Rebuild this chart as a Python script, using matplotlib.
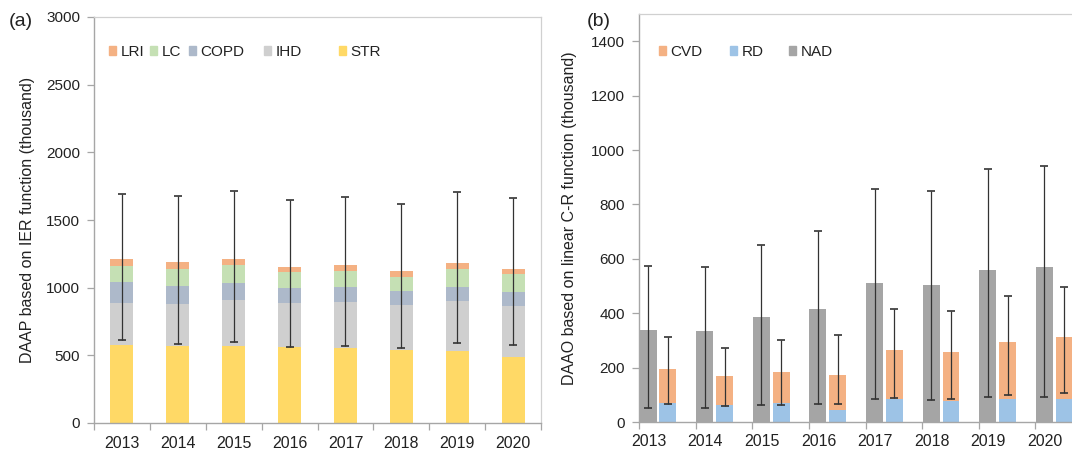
import numpy as np
import matplotlib
matplotlib.use('Agg')
import matplotlib.pyplot as plt
from matplotlib.patches import Patch
from matplotlib.legend import Legend

plt.rcParams['font.family'] = ['Liberation Sans', 'DejaVu Sans']

# Dados
years = ['2013', '2014', '2015', '2016', '2017', '2018', '2019', '2020']

# (a) segmentos empilhados (mil)
STR = [576, 569, 569, 562, 557, 542, 534, 490]
IHD = [309, 311, 340, 323, 340, 333, 370, 372]
COPD = [155, 135, 126, 111, 108, 101, 104, 106]
LC = [123, 123, 133, 120, 118, 105, 130, 131]
LRI = [49, 50, 42, 37, 42, 40, 42, 42]
a_low = [611, 584, 599, 564, 569, 552, 591, 576]
a_high = [1695, 1678, 1715, 1646, 1670, 1618, 1710, 1663]

# (b)
NAD = [339, 336, 386, 416, 510, 504, 557, 569]
NAD_low = [51, 51, 61, 67, 85, 80, 91, 91]
NAD_high = [573, 569, 649, 702, 856, 848, 930, 940]
RD = [69, 62, 69, 44, 83, 77, 83, 83]
CVD = [126, 107, 116, 129, 180, 179, 210, 230]
b_low = [65, 59, 62, 67, 90, 86, 99, 105]
b_high = [312, 271, 300, 321, 417, 408, 465, 498]

c_lri = '#F4B183'
c_lc = '#C5E0B4'
c_copd = '#ADB9CA'
c_ihd = '#CFCFCF'
c_str = '#FFD966'
c_cvd = '#F4B183'
c_rd = '#9DC3E6'
c_nad = '#A5A5A5'
err_c = '#333333'
axis_c = '#A6A6A6'
frame_c = '#D0D0D0'
txt_c = '#222222'

W, H = 1072, 455
fig = plt.figure(figsize=(W / 100, H / 100), dpi=100)


def px_axes(l, r, t, b):
    return fig.add_axes([l / W, (H - b) / H, (r - l) / W, (b - t) / H])


def style(ax):
    for s in ['top', 'right']:
        ax.spines[s].set_color(frame_c)
        ax.spines[s].set_linewidth(0.9)
    for s in ['left', 'bottom']:
        ax.spines[s].set_color(axis_c)
        ax.spines[s].set_linewidth(1.0)
    ax.tick_params(axis='y', colors=axis_c, labelcolor=txt_c, labelsize=11,
                   length=5, width=0.9, direction='out', pad=5)
    ax.tick_params(axis='x', which='major', colors=axis_c, length=5,
                   width=0.9, direction='out', labelbottom=False)
    ax.tick_params(axis='x', which='minor', length=0, labelcolor=txt_c,
                   labelsize=11.5, pad=9)


def legend_item(ax, col, lab, xpx, ypx):
    # uma entrada de legenda posicionada em pixels da figura
    lg = Legend(ax, [Patch(color=col)], [lab], loc='center left',
                bbox_to_anchor=(xpx / W, 1 - ypx / H),
                bbox_transform=fig.transFigure, frameon=False,
                fontsize=11, handlelength=0.45, handleheight=0.45,
                handletextpad=0.3, borderpad=0, borderaxespad=0,
                labelcolor=txt_c)
    ax.add_artist(lg)


x = np.arange(len(years))

# ---- (a)
ax1 = px_axes(94, 541, 17, 423)
w1 = 0.41
bottom = np.zeros(len(years))
for vals, col in [(STR, c_str), (IHD, c_ihd), (COPD, c_copd),
                  (LC, c_lc), (LRI, c_lri)]:
    ax1.bar(x, vals, w1, bottom=bottom, color=col, zorder=2)
    bottom += np.array(vals)
tot = bottom
ax1.errorbar(x, tot, yerr=[tot - np.array(a_low), np.array(a_high) - tot],
             fmt='none', ecolor=err_c, elinewidth=0.9, capsize=3,
             capthick=1.2, zorder=3)
ax1.set_xlim(-0.5, 7.5)
ax1.set_ylim(0, 3000)
ax1.set_yticks(np.arange(0, 3001, 500))
ax1.set_xticks(np.arange(-0.5, 8, 1))
ax1.set_xticks(x, minor=True)
ax1.set_xticklabels(years, minor=True)
style(ax1)
ax1.set_ylabel('DAAP based on IER function (thousand)', fontsize=11.5,
               color=txt_c, labelpad=8)
for col, lab, xp in [(c_lri, 'LRI', 109), (c_lc, 'LC', 150),
                     (c_copd, 'COPD', 189), (c_ihd, 'IHD', 264),
                     (c_str, 'STR', 339)]:
    legend_item(ax1, col, lab, xp, 52)
fig.text(9 / W, 1 - 21 / H, '(a)', fontsize=14, color=txt_c, va='center')

# ---- (b)
ax2 = px_axes(639, 1092, 14, 422)
w2 = 0.3
xn = x - 0.34
xs = x + 0.01
ax2.bar(xn, NAD, w2, color=c_nad, zorder=2)
ax2.bar(xs, RD, w2, color=c_rd, zorder=2)
ax2.bar(xs, CVD, w2, bottom=RD, color=c_cvd, zorder=2)
nad = np.array(NAD)
ax2.errorbar(xn, nad, yerr=[nad - np.array(NAD_low), np.array(NAD_high) - nad],
             fmt='none', ecolor=err_c, elinewidth=0.9, capsize=3,
             capthick=1.2, zorder=3)
tb = np.array(RD) + np.array(CVD)
ax2.errorbar(xs, tb, yerr=[tb - np.array(b_low), np.array(b_high) - tb],
             fmt='none', ecolor=err_c, elinewidth=0.9, capsize=3,
             capthick=1.2, zorder=3)
ax2.set_xlim(-0.5, 7.5)
ax2.set_ylim(0, 1500)
ax2.set_yticks(np.arange(0, 1401, 200))
ax2.set_xticks(np.arange(-0.5, 8, 1))
ax2.set_xticks(x - 0.33, minor=True)
ax2.set_xticklabels(years, minor=True)
style(ax2)
ax2.set_ylabel('DAAO based on linear C-R function (thousand)', fontsize=11.5,
               color=txt_c, labelpad=10)
for col, lab, xp in [(c_cvd, 'CVD', 659), (c_rd, 'RD', 730),
                     (c_nad, 'NAD', 789)]:
    legend_item(ax2, col, lab, xp, 52)
fig.text(587 / W, 1 - 21 / H, '(b)', fontsize=14, color=txt_c, va='center')

fig.savefig('out.png', dpi=100)
